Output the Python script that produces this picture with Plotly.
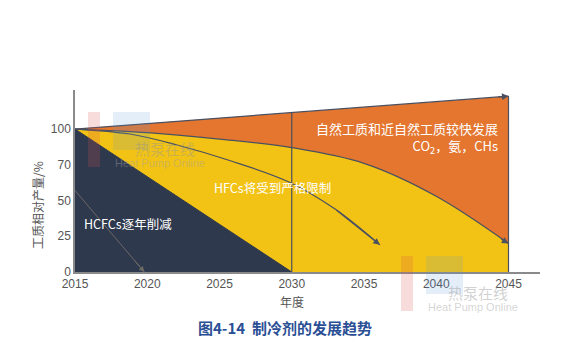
import plotly.graph_objects as go

# ---------------- data ----------------
years_hcfc = [2015, 2030]
hcfc = [100, 0]

years_hfc = [2015, 2020, 2025, 2030, 2035, 2040, 2045]
hfc = [100, 97.5, 93, 87, 76, 53, 20]

years_total = [2015, 2030, 2045]
total = [100, 111.5, 123]

hcfc_arrow_x = [2015, 2019.8]
hcfc_arrow_y = [57, 0]

hfc_arrow_x = [2015, 2018.8, 2022, 2025.7, 2029.8, 2033, 2036.1]
hfc_arrow_y = [100, 96.5, 89, 78, 63, 44, 19]

x_ticks = [2015, 2020, 2025, 2030, 2035, 2040, 2045]
y_tickvals = [0, 25, 50, 75, 100]
y_ticktext = ["0", "25", "50", "70", "100"]

NAVY = "#2e394d"
YELLOW = "#f2c315"
ORANGE = "#e4762f"
LINE = "#4a5060"

W, H = 582, 351
L, R, T, B = 75, 42, 90, 79
PW, PH = W - L - R, H - T - B


def px(xp):
    return (xp - L) / PW


def py(yp):
    return (H - B - yp) / PH


fig = go.Figure()

# fills (bottom to top)
fig.add_trace(go.Scatter(x=years_total, y=total, mode="lines", fill="tozeroy",
                         fillcolor=ORANGE, line=dict(color=LINE, width=1.3),
                         hoverinfo="skip"))
fig.add_trace(go.Scatter(x=years_hfc, y=hfc, mode="lines", fill="tozeroy",
                         fillcolor=YELLOW, line=dict(color=LINE, width=1.3, shape="spline"),
                         hoverinfo="skip"))
fig.add_trace(go.Scatter(x=years_hcfc, y=hcfc, mode="lines", fill="tozeroy",
                         fillcolor=NAVY, line=dict(color=NAVY, width=1),
                         hoverinfo="skip"))

# vertical dividers at 2030 and 2045
for xv, yv in [(years_total[1], total[1]), (years_total[2], total[2])]:
    fig.add_trace(go.Scatter(x=[xv, xv], y=[0, yv], mode="lines",
                             line=dict(color=LINE, width=1.2), hoverinfo="skip"))

# arrow bodies
fig.add_trace(go.Scatter(x=hfc_arrow_x, y=hfc_arrow_y, mode="lines",
                         line=dict(color=LINE, width=1.2, shape="spline"), hoverinfo="skip"))
fig.add_trace(go.Scatter(x=hcfc_arrow_x, y=hcfc_arrow_y, mode="lines",
                         line=dict(color="#6d6a66", width=1), hoverinfo="skip"))


# arrowheads
def head(x0, y0, x1, y1, color=LINE, w=1.2):
    fig.add_annotation(x=x1, y=y1, ax=x0, ay=y0, xref="x", yref="y", axref="x", ayref="y",
                       showarrow=True, arrowhead=2, arrowsize=1.1, arrowwidth=w,
                       arrowcolor=color, text="")


head(2044.2, total[2] - 0.6, years_total[2], total[2])
head(2044.4, 23.5, years_hfc[-1], hfc[-1])
head(hfc_arrow_x[-2], hfc_arrow_y[-2], hfc_arrow_x[-1], hfc_arrow_y[-1])
head(2019.0, 9.5, hcfc_arrow_x[-1], hcfc_arrow_y[-1], color="#6d6a66", w=1)


def text(xp, yp, s, size, color, family, xanchor="center", angle=0, align="center"):
    fig.add_annotation(x=px(xp), y=py(yp), xref="paper", yref="paper",
                       xanchor=xanchor, yanchor="middle", textangle=angle, align=align,
                       text=s, showarrow=False,
                       font=dict(size=size, color=color, family=family))


CJK = "Noto Sans CJK SC"


# watermark logos (faint)
def logo(x0, y0):
    fig.add_shape(type="rect", xref="paper", yref="paper", x0=px(x0), x1=px(x0 + 12),
                  y0=py(y0 + 55), y1=py(y0), fillcolor="rgba(220,80,80,0.20)",
                  line=dict(width=0), layer="above")
    fig.add_shape(type="rect", xref="paper", yref="paper", x0=px(x0 + 25), x1=px(x0 + 62),
                  y0=py(y0 + 38), y1=py(y0), fillcolor="rgba(90,150,220,0.16)",
                  line=dict(width=0), layer="above")
    text(x0 + 45, y0 + 36, "热泵在线", 15, "rgba(150,150,150,0.45)", CJK, "left")
    text(x0 + 25, y0 + 51, "Heat Pump Online", 11, "rgba(160,160,160,0.45)",
         "Liberation Sans", "left")


logo(88, 112)
logo(401, 256)

# labels inside the chart
text(500, 138, "自然工质和近自然工质较快发展<br>CO<sub>2</sub>，氨，CHs", 13, "white", CJK,
     "right", align="right")
text(212, 187, "HFCs将受到严格限制", 12.5, "white", CJK, "left")
text(82, 223, "HCFCs逐年削减", 12.5, "white", CJK, "left")

# axis titles and caption
text(37, 205, "工质相对产量/%", 12, "#555555", CJK, "center", -90)
text(292, 301, "年度", 12, "#555555", CJK)
text(285, 327, "<b>图4-14  制冷剂的发展趋势</b>", 15, "#2b4f95", CJK)

x_end = 2015 + PW / 14.45
fig.update_layout(
    width=W, height=H, margin=dict(l=L, r=R, t=T, b=B),
    paper_bgcolor="white", plot_bgcolor="white", showlegend=False,
    xaxis=dict(range=[2015, x_end], tickvals=x_ticks, showgrid=False, zeroline=False,
               showline=True, linecolor="#8a8a8a", linewidth=2, ticks="",
               tickfont=dict(size=12, color="#555555", family="Liberation Sans")),
    yaxis=dict(range=[0, 127.3], tickvals=y_tickvals, ticktext=y_ticktext,
               showgrid=False, zeroline=False, showline=True, linecolor="#8a8a8a",
               linewidth=1.5, ticks="",
               tickfont=dict(size=12, color="#555555", family="Liberation Sans")),
)

fig.write_html("out.html")
